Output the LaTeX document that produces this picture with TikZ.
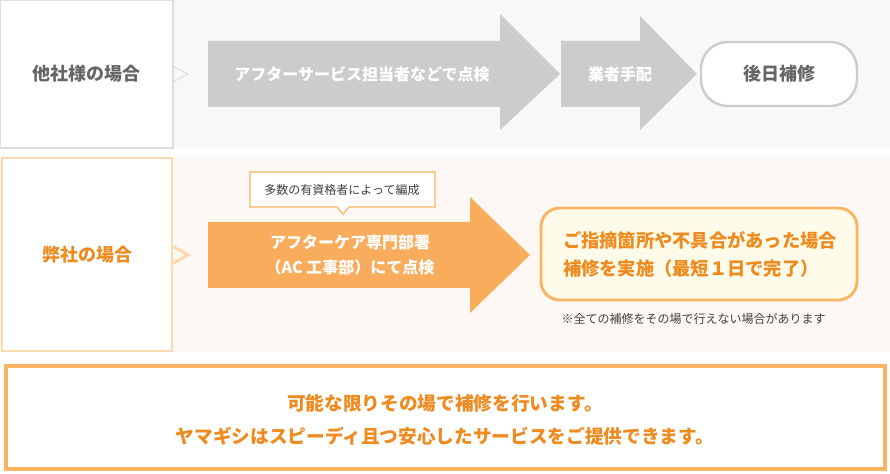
\documentclass[tikz,border=0pt]{standalone}
\usepackage{fontspec}
\setmainfont{Noto Sans CJK JP}
\usetikzlibrary{positioning}
\definecolor{bandgray}{HTML}{F8F8F8}
\definecolor{bandorange}{HTML}{FDF8F3}
\definecolor{arrowgray}{HTML}{CCCCCC}
\definecolor{linegray}{HTML}{DDDDDD}
\definecolor{textgray}{HTML}{666666}
\definecolor{arroworange}{HTML}{F9AD5C}
\definecolor{lineorange}{HTML}{F9B362}
\definecolor{paleorange}{HTML}{FDD9AE}
\definecolor{textorange}{HTML}{EF8A1E}
\definecolor{paleyellow}{HTML}{FFFBEA}
\tikzset{
  headbox/.style={font=\fontsize{13.5}{16}\selectfont\bfseries},
  arrowtext/.style={text=white, font=\fontsize{12}{19}\selectfont\bfseries, align=center},
  notetext/.style={text=black!75, font=\fontsize{9}{11}\selectfont},
  resulttext/.style={text=textorange, font=\fontsize{13.7}{21}\selectfont\bfseries, align=left}
}
\begin{document}
\begin{tikzpicture}[x=0.75pt, y=-0.75pt]
            \useasboundingbox (0,0) rectangle (890,474);
            % bands
            \fill[bandgray] (0,0) rectangle (890,148);
            \fill[bandorange] (0,157) rectangle (890,352);
            % left boxes
            \draw[linegray, fill=white, line width=0.8pt] (0.5,0.5) rectangle (173,148);
            \node[headbox, text=textgray] (other) at (86,74) {他社様の場合};
            \draw[linegray, line width=0.8pt] (173,66) -- (188,74) -- (173,82);
            \draw[paleorange, fill=white, line width=2.2pt] (2,158) rectangle (172,351);
            \node[headbox, text=textorange] (ours) at (87,255) {弊社の場合};
            \draw[paleorange, line width=2.2pt] (172,246) -- (188,255) -- (172,264);
            % gray arrows
            \fill[arrowgray] (208,41) -- (500,41) -- (500,14) -- (560,74) -- (500,130) -- (500,107) -- (208,107) -- cycle;
            \node[arrowtext] (check) at (362,74) {アフターサービス担当者などで点検};
            \fill[arrowgray] (561,41) -- (640,41) -- (640,16) -- (697,74) -- (640,130) -- (640,107) -- (561,107) -- cycle;
            \node[arrowtext] (order) at (620,74) {業者手配};
            \draw[arrowgray, fill=white, line width=1.8pt, rounded corners=20pt] (701,42) rectangle (857,106);
            \node[headbox, text=textgray] (later) at (779,74) {後日補修};
            % orange arrow
            \fill[arroworange] (208,222) -- (470,222) -- (470,197) -- (530,255) -- (470,313) -- (470,288) -- (208,288) -- cycle;
            \node[arrowtext] (team) at (350,255) {アフターケア専門部署\\（AC 工事部）にて点検};
            \draw[lineorange, fill=white, line width=0.9pt] (250,172) -- (435,172) -- (435,207) -- (349,207) -- (343,214) -- (337,207) -- (250,207) -- cycle;
            \node[notetext] (staff) at (342,190) {多数の有資格者によって編成};
            \draw[lineorange, fill=paleyellow, line width=2.2pt, rounded corners=14pt] (541,208) rectangle (857,300);
            \node[resulttext] (result) at (700,254) {ご指摘箇所や不具合があった場合\\補修を実施（最短１日で完了）};
            \node[notetext, anchor=west] (note) at (557,319) {※全ての補修をその場で行えない場合があります};
            % summary
            \draw[lineorange, fill=white, line width=3pt] (6,366) rectangle (885,469);
            \node[resulttext, align=center, font=\fontsize{14}{25}\selectfont\bfseries] (summary) at (445,420) {可能な限りその場で補修を行います。\\ヤマギシはスピーディ且つ安心したサービスをご提供できます。};
        \end{tikzpicture}
\end{document}
